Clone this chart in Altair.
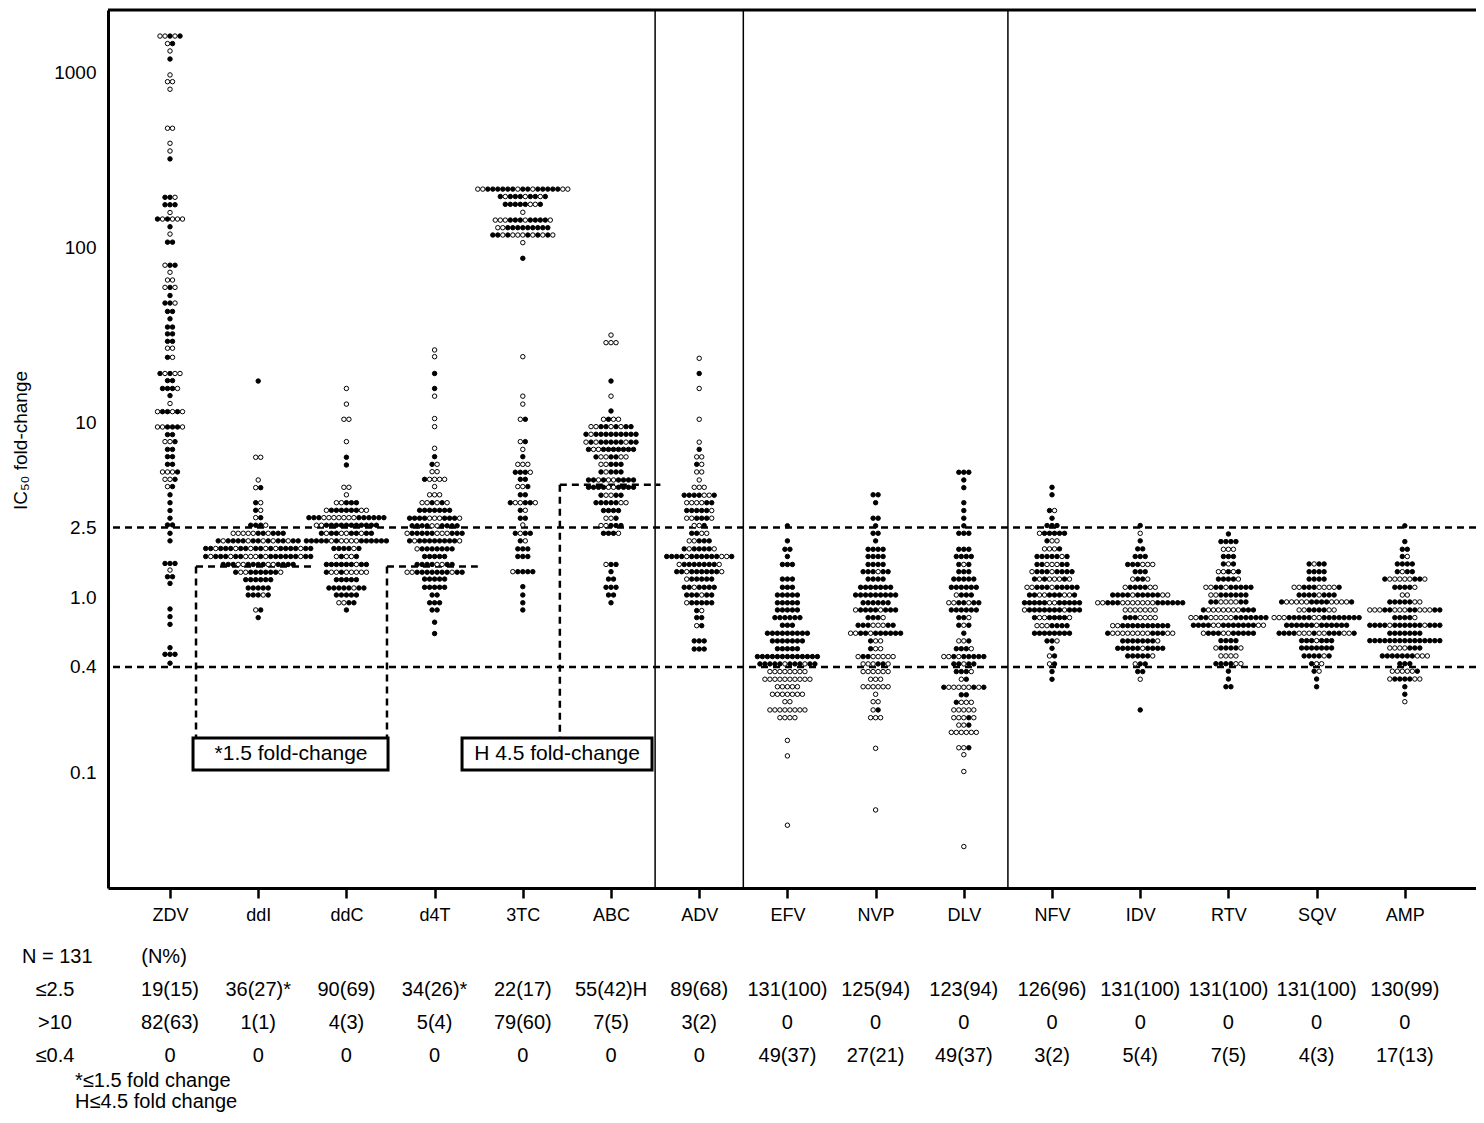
import altair as alt
import pandas as pd

FONT = "Liberation Sans"

DRUGS = ["ZDV", "ddI", "ddC", "d4T", "3TC", "ABC", "ADV", "EFV", "NVP", "DLV",
         "NFV", "IDV", "RTV", "SQV", "AMP"]

# rows of the beeswarm: (IC50 fold-change, dots from left to right; x = filled, o = open)
ZDV_ROWS = [(1611, "ooxox"), (1459, "ox"), (1324, "o"), (1191, "x"), (966, "o"), (884, "oo"),
            (800, "o"), (479, "oo"), (393, "o"), (355, "o"), (320, "x"), (193, "xxo"),
            (175, "xxx"), (158, "o"), (145, "xoxooo"), (131, "x"), (119, "o"), (107, "xx"),
            (79, "oxx"), (72, "o"), (65, "oo"), (59, "oxo"), (53, "x"), (48, "xxo"), (43, "xx"),
            (39, "x"), (35, "xx"), (32, "xx"), (29, "xx"), (26.5, "oo"), (23.5, "xo"),
            (19, "xoxoo"), (17.3, "xx"), (15.6, "xxxo"), (14.2, "x"), (12.8, "o"),
            (11.5, "oxxoxo"), (9.4, "ooxxxo"), (8.5, "xx"), (7.75, "oox"), (7.0, "xx"),
            (6.36, "xx"), (5.75, "xx"), (5.2, "ooox"), (4.72, "oox"), (4.29, "ox"), (3.85, "x"),
            (3.47, "x"), (3.13, "x"), (2.83, "x"), (2.59, "xx"), (2.32, "x"), (2.10, "x"),
            (1.56, "xxx"), (1.43, "o"), (1.31, "xx"), (1.20, "x"), (0.857, "x"), (0.775, "x"),
            (0.70, "x"), (0.515, "x"), (0.472, "xxx"), (0.42, "x")]
DDI_ROWS = [(17.2, "x"), (6.31, "oo"), (4.68, "o"), (4.23, "ox"), (3.47, "xo"), (3.14, "xo"),
            (2.85, "ox"), (2.58, "xxxo"), (2.32, "oooooxxoxxx"), (2.10, "xoxxxxoxxoxoxxoxx"),
            (1.90, "xxoxxxoxxoxxoxoxxxxoxx"), (1.71, "xoxxxoxxoooxoxxxxxxoxx"),
            (1.54, "xxxooxxxxooxxxx"), (1.39, "xooxxxxxxo"), (1.26, "xxxxxx"), (1.13, "xxxxx"),
            (1.03, "xxxox"), (0.846, "ox"), (0.765, "x")]
DDC_ROWS = [(15.6, "o"), (12.7, "o"), (10.4, "oo"), (7.75, "o"), (6.31, "x"), (5.70, "x"),
            (4.25, "oo"), (3.85, "o"), (3.47, "ooxxx"), (3.14, "oxxxxxxoo"),
            (2.85, "xxxoooooooxxxxxx"), (2.58, "ooxxxxxxxxxxx"), (2.32, "xoxxooxxoxx"),
            (2.10, "xxxxxoxooooxxxxxx"), (1.90, "xxxxox"), (1.71, "oxoox"), (1.54, "xxxxxxoxx"),
            (1.39, "xooxooooo"), (1.26, "xxxxx"), (1.13, "xxxxxoxx"), (1.03, "xxxxx"),
            (0.93, "ooxx"), (0.846, "x")]
D4T_ROWS = [(25.9, "o"), (23.7, "o"), (19, "x"), (15.6, "x"), (14.1, "o"), (10.5, "o"),
            (9.44, "o"), (7.1, "o"), (6.36, "x"), (5.75, "xo"), (5.22, "oo"), (4.72, "xoooo"),
            (4.29, "o"), (3.85, "ooo"), (3.47, "ooxoxo"), (3.14, "xxxxxxx"),
            (2.83, "xxxxoooxxxo"), (2.56, "xxxxooxxxx"), (2.32, "oxxxxxoooxxx"),
            (2.10, "xoxxxxxxxxo"), (1.89, "oxxxxxxx"), (1.71, "xxxxx"), (1.54, "xxxxooxx"),
            (1.39, "ooxxxxxxxoxx"), (1.27, "xxxxx"), (1.14, "xxxxx"), (1.03, "xx"),
            (0.93, "xxx"), (0.846, "xx"), (0.72, "x"), (0.62, "x")]
TC3_ROWS = [(215, "ooxxxxxxoxxoxxxxxoo"), (195, "xoxxxoxxox"), (176, "xxxxxoox"), (158.5, "o"),
            (143, "oooxxxoxxxxo"), (129.4, "ooxxxxxxxxx"), (117.5, "xxoxoooxoxoxo"),
            (106.3, "o"), (86.5, "x"), (23.7, "o"), (14.1, "o"), (12.7, "o"), (10.4, "ox"),
            (7.75, "ox"), (7.0, "o"), (6.36, "x"), (5.75, "ooo"), (5.18, "xxxo"), (4.72, "xx"),
            (4.29, "oox"), (3.85, "xx"), (3.47, "xooxxo"), (3.14, "xo"), (2.83, "xx"),
            (2.59, "o"), (2.32, "xoxx"), (2.10, "xo"), (1.89, "xxx"), (1.71, "xxx"),
            (1.40, "oxxxx"), (1.15, "x"), (1.03, "x"), (0.93, "x"), (0.846, "x")]
ABC_ROWS = [(31.5, "o"), (28.5, "ooo"), (17.2, "x"), (14.1, "o"), (11.6, "x"), (10.4, "oxoo"),
            (9.44, "ooxxoxoxx"), (8.54, "xoxxxxxxxxx"), (7.7, "oxoxxxxxoxx"),
            (7.0, "xooxxxxxxx"), (6.34, "xooxxoo"), (5.75, "ooxxx"), (5.2, "xoxxx"),
            (4.68, "xxoxooxxxx"), (4.25, "xxxxooxxxx"), (3.83, "xooxx"), (3.47, "xxxxxoo"),
            (3.13, "xxxx"), (2.83, "oox"), (2.57, "ooxxx"), (2.32, "xxxo"), (1.54, "oxx"),
            (1.40, "x"), (1.27, "xx"), (1.14, "xxx"), (1.03, "xx"), (0.93, "x")]
ADV_ROWS = [(23.2, "o"), (19, "x"), (15.6, "o"), (10.4, "o"), (7.7, "o"), (7.0, "x"),
            (6.34, "oo"), (5.75, "xo"), (5.2, "oo"), (4.68, "o"), (4.25, "ooo"),
            (3.83, "xxxxoox"), (3.47, "ooooxx"), (3.13, "xxxxxo"), (2.83, "ooxxxo"),
            (2.57, "oox"), (2.32, "xxoo"), (2.10, "ooxxx"), (1.89, "xoxxxxo"),
            (1.71, "xxxxoxxxxxxoox"), (1.54, "oxxxxxxxo"), (1.40, "xxoxxxxxxo"),
            (1.27, "oxxxxx"), (1.14, "xxoxxxx"), (1.03, "xxxoxx"), (0.93, "oxxxxx"),
            (0.839, "xo"), (0.765, "xx"), (0.688, "ox"), (0.563, "xxx"), (0.506, "xxx")]
EFV_ROWS = [(2.56, "x"), (2.10, "x"), (1.88, "xx"), (1.71, "x"), (1.54, "xxx"), (1.27, "xxx"),
            (1.14, "xxx"), (1.03, "xxxxx"), (0.93, "xxxxx"), (0.846, "xxxxx"),
            (0.765, "xxxxxx"), (0.692, "xxx"), (0.623, "xxxxxxxxx"), (0.563, "xxxxxxx"),
            (0.508, "xxxxx"), (0.458, "xxxxxxxxxxxxx"), (0.416, "xxxxxoxxxoxx"),
            (0.376, "oooooooo"), (0.340, "oooooooooo"), (0.308, "ooooo"), (0.279, "ooooooo"),
            (0.253, "oo"), (0.227, "oooooooo"), (0.205, "oooo"), (0.152, "o"), (0.124, "o"),
            (0.0498, "o")]
NVP_ROWS = [(3.85, "xx"), (3.47, "x"), (2.83, "xx"), (2.56, "x"), (2.32, "xx"), (2.10, "x"),
            (1.88, "xxxx"), (1.71, "xxxx"), (1.54, "xxxx"), (1.40, "xxxoxx"), (1.27, "xxxx"),
            (1.14, "xxxxxxx"), (1.03, "xxxxxxxxx"), (0.93, "xxxxxx"), (0.846, "oxxxxoxxx"),
            (0.765, "xxxo"), (0.692, "xxxoooxx"), (0.623, "ooxxoxxxxxx"), (0.563, "xoo"),
            (0.508, "xoo"), (0.458, "oxxooooo"), (0.416, "oooxxo"), (0.376, "oooooo"),
            (0.340, "ooo"), (0.308, "oooooo"), (0.279, "o"), (0.253, "oo"), (0.227, "ox"),
            (0.205, "ooo"), (0.137, "o"), (0.0609, "o")]
DLV_ROWS = [(5.18, "xxx"), (4.68, "x"), (4.23, "x"), (3.47, "x"), (3.13, "x"), (2.83, "x"),
            (2.56, "x"), (2.32, "xxx"), (1.88, "xxx"), (1.71, "xxxx"), (1.54, "xox"),
            (1.40, "xxx"), (1.27, "xxxxx"), (1.14, "xxxxxx"), (1.03, "oxxx"), (0.93, "ooxxoxx"),
            (0.846, "xxxxxx"), (0.765, "xxo"), (0.692, "xox"), (0.623, "x"), (0.563, "oox"),
            (0.508, "xxxo"), (0.458, "ooxoxxxxx"), (0.416, "xxoxx"), (0.376, "xxxo"),
            (0.340, "ox"), (0.306, "xoooooxox"), (0.277, "xx"), (0.251, "xooo"),
            (0.227, "ooooo"), (0.205, "oooxo"), (0.186, "oox"), (0.169, "oooooo"),
            (0.138, "oox"), (0.126, "o"), (0.101, "o"), (0.0376, "o")]
NFV_ROWS = [(4.25, "x"), (3.85, "x"), (3.13, "xo"), (2.83, "x"), (2.57, "xxx"), (2.32, "oxxxxx"),
            (2.10, "xoo"), (1.89, "ooox"), (1.71, "xxxxxox"), (1.54, "xxoooxx"),
            (1.40, "oxxxoxxxx"), (1.27, "xoxoooxo"), (1.14, "ooxxxoxxxxx"),
            (1.03, "xxooxxxoox"), (0.93, "xxxxxooxxxxx"), (0.846, "oxxxxxxxoxxx"),
            (0.765, "xooxxxxo"), (0.688, "oooxxxx"), (0.623, "xxxxxxxx"), (0.563, "xxo"),
            (0.511, "x"), (0.462, "ox"), (0.416, "ox"), (0.376, "x"), (0.340, "x")]
IDV_ROWS = [(2.57, "x"), (2.32, "o"), (2.10, "x"), (1.89, "xx"), (1.71, "xxx"), (1.54, "xxxooo"),
            (1.40, "xxx"), (1.27, "oxxo"), (1.14, "oxxxxoo"), (1.03, "xxxxoxxxxxoo"),
            (0.93, "ooxxxoooooooxxxxxx"), (0.846, "ooooooo"), (0.765, "xxxoooo"),
            (0.688, "ooxxxxxxxxxx"), (0.623, "xooooooooxxxoo"), (0.563, "xxxxxxxo"),
            (0.511, "xxxxxoxxxx"), (0.462, "xxxxxo"), (0.416, "oxx"), (0.376, "xx"),
            (0.340, "o"), (0.227, "x")]
RTV_ROWS = [(2.30, "x"), (2.08, "xxxx"), (1.88, "ooo"), (1.71, "xxx"), (1.55, "xox"),
            (1.40, "ooxox"), (1.27, "xxxxo"), (1.14, "ooxxoxxxxx"), (1.03, "ooxxxxxx"),
            (0.94, "xxooooxx"), (0.846, "xoooooooxxx"), (0.765, "ooxxoooooxxxxxxx"),
            (0.692, "xxxxooxxxxxxxoo"), (0.623, "oxxxooxxxxx"), (0.565, "xxxx"),
            (0.513, "oxxxxo"), (0.462, "oooo"), (0.417, "xxxxoo"), (0.378, "x"), (0.341, "x"),
            (0.308, "xx")]
SQV_ROWS = [(1.55, "xoxx"), (1.40, "xxxx"), (1.27, "xxxx"), (1.14, "ooxxxoooox"),
            (1.03, "xxxxoxxx"), (0.94, "xoooooxxxxoooox"), (0.846, "ooxxxxoo"),
            (0.765, "oooxxxxxooxxxxxxxx"), (0.692, "xxxxxxoxxxxxx"),
            (0.623, "xxxxoooxooxxxoox"), (0.565, "xxxoxxx"), (0.513, "xxxxxxx"),
            (0.462, "xxxxox"), (0.417, "xoo"), (0.378, "xo"), (0.341, "x"), (0.308, "x")]
AMP_ROWS = [(2.56, "x"), (2.08, "x"), (1.88, "xx"), (1.71, "xo"), (1.55, "xxxx"), (1.40, "xoxx"),
            (1.27, "xoooooxxo"), (1.14, "xxxxo"), (1.03, "oo"), (0.94, "xxxxxoo"),
            (0.846, "oooxxoooxxoooxx"), (0.765, "xxxxo"), (0.692, "xxxxoxxxxxxoxxx"),
            (0.623, "xxxxxxx"), (0.565, "xxxxxxxxxxxxxxx"), (0.513, "ooooxxx"),
            (0.462, "xxxxxxxooo"), (0.417, "xxx"), (0.378, "ooooox"), (0.341, "oxxxxoo"),
            (0.308, "x"), (0.279, "x"), (0.253, "o")]

ALL_ROWS = [ZDV_ROWS, DDI_ROWS, DDC_ROWS, D4T_ROWS, TC3_ROWS, ABC_ROWS, ADV_ROWS, EFV_ROWS,
            NVP_ROWS, DLV_ROWS, NFV_ROWS, IDV_ROWS, RTV_ROWS, SQV_ROWS, AMP_ROWS]

# table under the chart
ROW_LE25 = ["19(15)", "36(27)*", "90(69)", "34(26)*", "22(17)", "55(42)H", "89(68)", "131(100)",
            "125(94)", "123(94)", "126(96)", "131(100)", "131(100)", "131(100)", "130(99)"]
ROW_GT10 = ["82(63)", "1(1)", "4(3)", "5(4)", "79(60)", "7(5)", "3(2)", "0", "0", "0", "0", "0",
            "0", "0", "0"]
ROW_LE04 = ["0", "0", "0", "0", "0", "0", "0", "49(37)", "27(21)", "49(37)", "3(2)", "5(4)",
            "7(5)", "4(3)", "17(13)"]

CUTOFFS = [2.5, 0.4]
DIVIDERS = [5.5, 6.5, 9.5]
# dashed annotation paths (x, x2 in drug positions; y, y2 in fold-change)
SEG_X = [0.295, 2.46, 0.295, 2.46, 4.42, 4.42]
SEG_X2 = [1.62, 3.49, 0.295, 2.46, 5.56, 4.42]
SEG_Y = [1.5, 1.5, 1.5, 1.5, 4.4, 4.4]
SEG_Y2 = [1.5, 1.5, 0.157, 0.157, 4.4, 0.157]
BOX_X = [0.261, 3.311]
BOX_X2 = [2.472, 5.465]
BOX_Y = [0.157, 0.157]
BOX_Y2 = [0.103, 0.103]
BOX_TEXT = ["*1.5 fold-change", "H 4.5 fold-change"]
BOX_TX = [1.372, 4.388]
BOX_TY = [0.127, 0.127]

W, H = 1368, 878
X_DOMAIN = [-0.703, 14.807]
Y_DOMAIN = [0.0218, 2270]
DOT_STEP = 5.0 / 88.2  # one dot diameter in drug-position units

recs = []
for i, rows in enumerate(ALL_ROWS):
    for value, pattern in rows:
        n = len(pattern)
        for k, ch in enumerate(pattern):
            recs.append({"drug": DRUGS[i], "fc": value,
                         "pos": i + (k - (n - 1) / 2) * DOT_STEP,
                         "kind": "filled" if ch == "x" else "open"})
dots = pd.DataFrame(recs)

xs = alt.Scale(domain=X_DOMAIN, nice=False, zero=False)
ys = alt.Scale(type="log", domain=Y_DOMAIN, nice=False)

names_js = "[" + ",".join("'%s'" % d for d in DRUGS) + "]"

x_axis = alt.Axis(values=list(range(15)), labelExpr=names_js + "[datum.value]", grid=False,
                  domainWidth=3, domainColor="black", tickColor="black", tickWidth=2.5,
                  tickSize=10, labelFont=FONT, labelFontSize=18, labelColor="black",
                  labelPadding=8, title=None)
y_axis = alt.Axis(values=[0.1, 0.4, 1, 2.5, 10, 100, 1000],
                  labelExpr="datum.value < 10 ? format(datum.value, '.1f') : format(datum.value, 'd')",
                  grid=False, ticks=False, domainWidth=3, domainColor="black", labelFont=FONT,
                  labelFontSize=19, labelColor="black", labelPadding=12,
                  title="IC₅₀ fold-change", titleFont=FONT, titleFontSize=19,
                  titleFontWeight="normal", titleColor="black", titleX=-88, titleY=430,
                  titleAngle=270, titleAlign="center", titleBaseline="middle")

pts = alt.Chart(dots).mark_point(shape="circle", filled=True, size=20, stroke="black",
                                 strokeWidth=1, opacity=1).encode(
    x=alt.X("pos:Q", scale=xs, axis=x_axis),
    y=alt.Y("fc:Q", scale=ys, axis=y_axis),
    fill=alt.Fill("kind:N", scale=alt.Scale(domain=["filled", "open"], range=["black", "white"]),
                  legend=None),
)

cut = alt.Chart(pd.DataFrame({"fc": CUTOFFS})).mark_rule(
    color="black", strokeWidth=2.5, strokeDash=[7, 5]).encode(y=alt.Y("fc:Q", scale=ys))
div = alt.Chart(pd.DataFrame({"pos": DIVIDERS})).mark_rule(
    color="black", strokeWidth=1.5).encode(x=alt.X("pos:Q", scale=xs))
top = alt.Chart(pd.DataFrame({"a": [0]})).mark_rule(color="black", strokeWidth=3).encode(
    y=alt.value(0))
segs = alt.Chart(pd.DataFrame({"x": SEG_X, "x2": SEG_X2, "y": SEG_Y, "y2": SEG_Y2})).mark_rule(
    color="black", strokeWidth=2.5, strokeDash=[7, 5]).encode(
    x=alt.X("x:Q", scale=xs), x2="x2:Q", y=alt.Y("y:Q", scale=ys), y2="y2:Q")
boxes = alt.Chart(pd.DataFrame({"x": BOX_X, "x2": BOX_X2, "y": BOX_Y, "y2": BOX_Y2})).mark_rect(
    fill="white", stroke="black", strokeWidth=3).encode(
    x=alt.X("x:Q", scale=xs), x2="x2:Q", y=alt.Y("y:Q", scale=ys), y2="y2:Q")
box_txt = alt.Chart(pd.DataFrame({"x": BOX_TX, "y": BOX_TY, "t": BOX_TEXT})).mark_text(
    font=FONT, fontSize=21, color="black", align="center", baseline="middle").encode(
    x=alt.X("x:Q", scale=xs), y=alt.Y("y:Q", scale=ys), text="t:N")

tab = pd.DataFrame({"pos": list(range(15)), "le25": ROW_LE25, "gt10": ROW_GT10, "le04": ROW_LE04})
def table_row(field, ypix):
    return alt.Chart(tab).mark_text(font=FONT, fontSize=20, color="black", align="center",
                                    baseline="middle").encode(
        x=alt.X("pos:Q", scale=xs), y=alt.value(ypix), text=f"{field}:N")

ROW_Y = [947, 980, 1013, 1046, 1071, 1092]
side = pd.DataFrame({"t": ["N = 131", "≤2.5", ">10", "≤0.4"],
                     "xp": [-86, -53, -53, -53], "yp": ROW_Y[:4]})
side_l = alt.Chart(side.iloc[:1]).mark_text(font=FONT, fontSize=20, color="black", align="left",
                                            baseline="middle").encode(
    x=alt.X("xp:Q", scale=None), y=alt.Y("yp:Q", scale=None), text="t:N")
side_c = alt.Chart(side.iloc[1:]).mark_text(font=FONT, fontSize=20, color="black",
                                            align="center", baseline="middle").encode(
    x=alt.X("xp:Q", scale=None), y=alt.Y("yp:Q", scale=None), text="t:N")
npct = alt.Chart(pd.DataFrame({"pos": [0], "t": ["(N%)"]})).mark_text(
    font=FONT, fontSize=20, color="black", align="center", baseline="middle", dx=-6).encode(
    x=alt.X("pos:Q", scale=xs), y=alt.value(ROW_Y[0]), text="t:N")
foot = alt.Chart(pd.DataFrame({"t": ["*≤1.5 fold change", "H≤4.5 fold change"],
                               "xp": [-33, -33], "yp": ROW_Y[4:]})).mark_text(
    font=FONT, fontSize=20, color="black", align="left", baseline="middle").encode(
    x=alt.X("xp:Q", scale=None), y=alt.Y("yp:Q", scale=None), text="t:N")

chart = alt.layer(
    cut, div, segs, top, pts, boxes, box_txt,
    table_row("le25", ROW_Y[1]), table_row("gt10", ROW_Y[2]), table_row("le04", ROW_Y[3]),
    npct, side_l, side_c, foot,
).properties(
    width=W, height=H, autosize=alt.AutoSizeParams(type="none"),
    padding={"left": 100, "top": 2, "right": 0, "bottom": 225},
).configure_view(stroke=None).configure(background="white")

chart.save("out.html", embed_options={"renderer": "svg", "actions": False})
